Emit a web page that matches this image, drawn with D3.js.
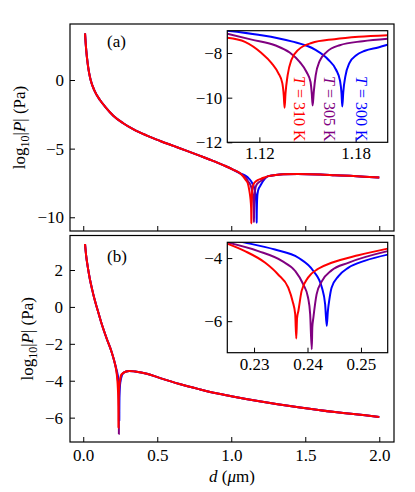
<!DOCTYPE html>
<html>
<head>
<meta charset="utf-8">
<script src="https://cdn.jsdelivr.net/npm/d3@7"></script>
<style>
  body { margin: 0; background: #fff; }
  svg text { font-family: "Liberation Serif", "DejaVu Serif", serif; }
</style>
</head>
<body>
<div id="chart"></div>
<script>
// ---- data, d in um, value = log10|P| ----
// panel (a), part shared by all temperatures
const dA_left  = [0.012, 0.02, 0.03, 0.04, 0.05, 0.075, 0.113, 0.15, 0.203, 0.27, 0.34, 0.43, 0.52, 0.61, 0.70, 0.79, 0.857, 0.95, 1.015, 1.06];
const pA_left  = [3.4, 2.2, 1.2, 0.5, 0.0, -0.75, -1.46, -1.97, -2.6, -3.15, -3.6, -4.05, -4.44, -4.8, -5.16, -5.53, -5.81, -6.22, -6.54, -6.8];
const dA_right = [1.25, 1.30, 1.35, 1.45, 1.60, 1.70, 1.80, 1.90, 2.00];
const pA_right = [-7.0, -6.92, -6.87, -6.85, -6.88, -6.93, -6.98, -7.04, -7.11];

// panel (a), around the sign change (also drawn in the inset)
const dA_300 = [1.1000, 1.1193, 1.1401, 1.1547, 1.1630, 1.1678, 1.1703, 1.1712, 1.1717, 1.1723, 1.1736, 1.1761, 1.1804, 1.1858, 1.1941, 1.2000];
const pA_300 = [-7.0, -7.18, -7.48, -7.85, -8.3, -8.75, -9.25, -9.8, -10.4, -9.75, -9.05, -8.45, -8.1, -7.9, -7.75, -7.63];
const dA_305 = [1.1000, 1.1152, 1.1297, 1.1389, 1.1451, 1.1494, 1.1519, 1.1527, 1.1532, 1.1539, 1.1551, 1.1576, 1.1620, 1.1701, 1.1844, 1.2000];
const pA_305 = [-7.14, -7.4, -7.65, -7.98, -8.4, -8.85, -9.3, -9.85, -10.35, -9.75, -9.0, -8.35, -7.95, -7.65, -7.47, -7.36];
const dA_310 = [1.1000, 1.1110, 1.1213, 1.1276, 1.1318, 1.1343, 1.1352, 1.1357, 1.1363, 1.1376, 1.1400, 1.1444, 1.1525, 1.1668, 1.1818, 1.2000];
const pA_310 = [-7.32, -7.5, -8.0, -8.45, -8.9, -9.35, -9.9, -10.45, -9.8, -9.0, -8.3, -7.85, -7.55, -7.38, -7.27, -7.2];

// panel (b), shared part
const dB_left  = [0.012, 0.02, 0.03, 0.045, 0.06, 0.075, 0.091, 0.12, 0.16, 0.19, 0.21];
const pB_left  = [3.41, 2.75, 2.2, 1.5, 0.95, 0.45, 0.0, -0.8, -1.75, -2.4, -2.95];
const dB_right = [0.27, 0.29, 0.31, 0.35, 0.43, 0.52, 0.65, 0.79, 0.9, 1.0, 1.2, 1.465, 1.7, 2.0];
const pB_right = [-3.58, -3.5, -3.47, -3.5, -3.62, -3.86, -4.18, -4.47, -4.68, -4.84, -5.13, -5.45, -5.7, -5.96];

// panel (b), around the sign change
const dB_300 = [0.2250, 0.2283, 0.2339, 0.2383, 0.2411, 0.2427, 0.2433, 0.2436, 0.2438, 0.2441, 0.2445, 0.2458, 0.2476, 0.2508, 0.2550];
const pB_300 = [-3.40, -3.51, -3.73, -3.99, -4.41, -4.94, -5.47, -6.15, -5.7, -5.3, -4.94, -4.57, -4.31, -4.08, -3.89];
const dB_305 = [0.2251, 0.2308, 0.2352, 0.2377, 0.2392, 0.2401, 0.2405, 0.2408, 0.2409, 0.2411, 0.2417, 0.2427, 0.2445, 0.2476, 0.2550];
const pB_305 = [-3.51, -3.78, -4.09, -4.41, -4.83, -5.25, -5.78, -6.89, -6.2, -5.89, -5.15, -4.73, -4.39, -4.15, -3.78];
const dB_310 = [0.2251, 0.2283, 0.2321, 0.2345, 0.2364, 0.2372, 0.2377, 0.2379, 0.23805, 0.2383, 0.2389, 0.2401, 0.2420, 0.2445, 0.2495, 0.2550];
const pB_310 = [-3.55, -3.78, -4.15, -4.52, -4.94, -5.36, -5.78, -6.55, -5.9, -5.67, -5.04, -4.62, -4.34, -4.15, -3.91, -3.70];

const temps  = ["300", "305", "310"];
const colors = ["blue", "purple", "red"];

// ticks
const xTicks    = [0.0, 0.5, 1.0, 1.5, 2.0];
const yTicksA   = [0, -5, -10];
const yTicksB   = [2, 0, -2, -4, -6];
const xTicksInA = [1.12, 1.18];
const yTicksInA = [-8, -10, -12];
const xTicksInB = [0.23, 0.24, 0.25];
const yTicksInB = [-4, -6];

// ---- helpers ----
const zip = (ds, ps) => ds.map((d, i) => [d, ps[i]]);
const FONT = 17;

const svg = d3.select("#chart").append("svg")
  .attr("width", 415).attr("height", 492)
  .style("background", "#fff");

let clipId = 0;
function panel(x, y, xt, yt, fmtX, fmtY, showXLabels, pad) {
  const [x0, x1] = x.range(), [y1, y0] = y.range();
  const g = svg.append("g");
  g.append("rect").attr("x", x0).attr("y", y0).attr("width", x1 - x0).attr("height", y1 - y0)
    .attr("fill", "white");
  const id = "clip" + (clipId++);
  svg.append("clipPath").attr("id", id).append("rect")
    .attr("x", x0).attr("y", y0).attr("width", x1 - x0).attr("height", y1 - y0);
  const plot = g.append("g").attr("clip-path", "url(#" + id + ")");

  g.append("g").attr("transform", "translate(0," + y1 + ")")
    .call(d3.axisBottom(x).tickValues(xt).tickSizeInner(-5).tickSizeOuter(0).tickPadding(pad)
      .tickFormat(showXLabels ? d3.format(fmtX) : () => ""))
    .call(a => a.select(".domain").remove())
    .attr("font-size", FONT).attr("font-family", null);
  g.append("g").attr("transform", "translate(" + x0 + ",0)")
    .call(d3.axisLeft(y).tickValues(yt).tickSizeInner(-5).tickSizeOuter(0).tickPadding(pad)
      .tickFormat(d3.format(fmtY)))
    .call(a => a.select(".domain").remove())
    .attr("font-size", FONT).attr("font-family", null);
  g.selectAll(".tick line").attr("stroke", "black").attr("stroke-width", 1);
  g.selectAll(".tick text").attr("fill", "black");

  g.append("rect").attr("x", x0).attr("y", y0).attr("width", x1 - x0).attr("height", y1 - y0)
    .attr("fill", "none").attr("stroke", "black").attr("stroke-width", 1.2);
  return plot;
}

function drawLines(plot, x, y, seriesList) {
  const line = d3.line().x(d => x(d[0])).y(d => y(d[1])).curve(d3.curveMonotoneX);
  seriesList.forEach((s, i) => {
    plot.append("path").datum(s).attr("d", line)
      .attr("fill", "none").attr("stroke", colors[i]).attr("stroke-width", 2)
      .attr("stroke-linejoin", "round");
  });
}

// ---- scales ----
const xMain = d3.scaleLinear().domain([-0.0895, 2.0995]).range([70, 394]);
const yTop  = d3.scaleLinear().domain([-11.0, 4.08]).range([231, 24]);
const yBot  = d3.scaleLinear().domain([-7.32, 3.87]).range([442, 235.5]);

const xInA = d3.scaleLinear().domain([1.10, 1.20]).range([227.3, 387.7]);
const yInA = d3.scaleLinear().domain([-12, -7]).range([142.3, 30.7]);
const xInB = d3.scaleLinear().domain([0.225, 0.255]).range([227.3, 387.7]);
const yInB = d3.scaleLinear().domain([-7, -3.5]).range([352.7, 242.3]);

const midA = [zip(dA_300, pA_300), zip(dA_305, pA_305), zip(dA_310, pA_310)];
const midB = [zip(dB_300, pB_300), zip(dB_305, pB_305), zip(dB_310, pB_310)];
const fullA = midA.map(m => zip(dA_left, pA_left).concat(m, zip(dA_right, pA_right)));
const fullB = midB.map(m => zip(dB_left, pB_left).concat(m, zip(dB_right, pB_right)));

// ---- panel (a) ----
const pa = panel(xMain, yTop, xTicks, yTicksA, ".1f", "d", false, 6);
drawLines(pa, xMain, yTop, fullA);
const pia = panel(xInA, yInA, xTicksInA, yTicksInA, ".2f", "d", true, 5);
drawLines(pia, xInA, yInA, midA);

// ---- panel (b) ----
const pb = panel(xMain, yBot, xTicks, yTicksB, ".1f", "d", true, 7);
drawLines(pb, xMain, yBot, fullB);
const pib = panel(xInB, yInB, xTicksInB, yTicksInB, ".2f", "d", true, 5);
drawLines(pib, xInB, yInB, midB);

// ---- labels ----
svg.append("text").attr("x", 107).attr("y", 47).attr("font-size", FONT).text("(a)");
svg.append("text").attr("x", 107).attr("y", 262).attr("font-size", FONT).text("(b)");

function yLabel(cx, cy) {
  const t = svg.append("text").attr("transform", "translate(" + cx + "," + cy + ") rotate(-90)")
    .attr("text-anchor", "middle").attr("dy", "0.35em").attr("font-size", FONT);
  t.append("tspan").text("log");
  t.append("tspan").attr("font-size", 12).attr("dy", 4).text("10");
  t.append("tspan").attr("dy", -4).text("|");
  t.append("tspan").attr("font-style", "italic").text("P");
  t.append("tspan").text("| (Pa)");
}
yLabel(19, 127.5);
yLabel(27.5, 338.8);

const xl = svg.append("text").attr("x", 232).attr("y", 482).attr("text-anchor", "middle").attr("font-size", FONT);
xl.append("tspan").attr("font-style", "italic").text("d");
xl.append("tspan").text(" (");
xl.append("tspan").attr("font-style", "italic").text("\u03bc");
xl.append("tspan").text("m)");

// temperature labels in inset (a)
const labelX = [362, 330, 300];
temps.forEach((T, i) => {
  const t = svg.append("text")
    .attr("transform", "translate(" + labelX[i] + "," + 76 + ") rotate(90)")
    .attr("dominant-baseline", "central").attr("font-size", 16).attr("fill", colors[i]);
  t.append("tspan").attr("font-style", "italic").text("T");
  t.append("tspan").text(" = " + T + " K");
});
</script>
</body>
</html>
